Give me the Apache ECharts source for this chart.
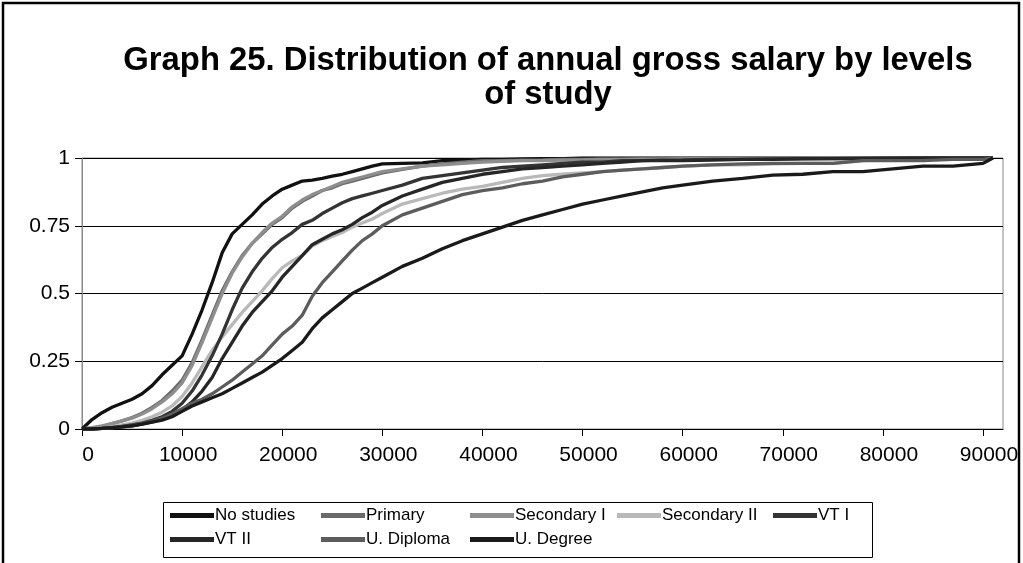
<!DOCTYPE html>
<html>
<head>
<meta charset="utf-8">
<script src="https://cdn.jsdelivr.net/npm/echarts@6/dist/echarts.min.js"></script>
<style>
html,body{margin:0;padding:0;background:#fff;}
#chart{width:1023px;height:563px;}
</style>
</head>
<body>
<div id="chart"></div>
<script>
// ---- data ----
const titleText = "Graph 25. Distribution of annual gross salary by levels\nof study";
const seriesNames = ["No studies","Primary","Secondary I","Secondary II","VT I","VT II","U. Diploma","U. Degree"];
const xTicks = [0,10000,20000,30000,40000,50000,60000,70000,80000,90000];
const yTicks = [0,0.25,0.5,0.75,1];
const salary = [0,1000,2000,3000,4000,5000,6000,7000,8000,9000,
  10000,11000,12000,13000,14000,15000,16000,17000,18000,19000,
  20000,21000,22000,23000,24000,25000,26000,27000,28000,29000,
  30000,32000,34000,36000,38000,40000,42000,44000,46000,48000,
  50000,52000,54000,56000,58000,60000,63000,66000,69000,72000,
  75000,78000,81000,84000,87000,90000,91000];
const noStudies = [0,0.035,0.06,0.08,0.095,0.11,0.13,0.16,0.2,0.235,
  0.27,0.35,0.44,0.54,0.65,0.72,0.755,0.79,0.83,0.86,
  0.885,0.9,0.915,0.918,0.925,0.933,0.94,0.95,0.96,0.97,
  0.978,0.98,0.982,0.99,0.992,0.995,0.995,0.997,0.998,0.998,
  1,1,1,1,1,1,1,1,1,1,
  1,1,1,1,1,1,1];
const primary = [0,0.003,0.01,0.02,0.03,0.042,0.058,0.08,0.105,0.14,
  0.18,0.245,0.33,0.42,0.51,0.58,0.64,0.685,0.72,0.755,
  0.78,0.815,0.84,0.86,0.88,0.89,0.905,0.915,0.925,0.935,
  0.945,0.958,0.97,0.978,0.985,0.99,0.99,0.992,0.993,0.995,
  0.995,0.996,0.996,0.997,0.997,0.998,0.998,0.998,0.999,0.999,
  0.999,1,1,1,1,1,1];
const secondaryI = [0,0.005,0.012,0.02,0.03,0.04,0.055,0.075,0.1,0.13,
  0.17,0.235,0.32,0.41,0.5,0.575,0.635,0.685,0.725,0.76,
  0.785,0.82,0.845,0.865,0.88,0.895,0.91,0.92,0.93,0.94,
  0.95,0.96,0.97,0.975,0.98,0.985,0.988,0.99,0.99,0.992,
  0.993,0.995,0.995,0.996,0.996,0.997,0.998,0.998,0.999,0.999,
  1,1,1,1,1,1,1];
const secondaryII = [0,0,0.003,0.008,0.015,0.022,0.032,0.045,0.062,0.085,
  0.12,0.17,0.23,0.29,0.34,0.385,0.43,0.47,0.51,0.555,
  0.595,0.62,0.64,0.675,0.695,0.71,0.725,0.745,0.76,0.775,
  0.795,0.83,0.85,0.87,0.885,0.895,0.91,0.925,0.935,0.94,
  0.945,0.95,0.955,0.96,0.965,0.97,0.975,0.975,0.978,0.98,
  0.98,0.99,0.995,0.995,0.995,0.995,1];
const vtI = [0,0,0.002,0.005,0.01,0.015,0.022,0.032,0.045,0.065,
  0.095,0.14,0.2,0.27,0.35,0.44,0.52,0.58,0.63,0.67,
  0.7,0.725,0.755,0.77,0.795,0.815,0.835,0.85,0.86,0.87,
  0.88,0.9,0.925,0.935,0.945,0.955,0.965,0.97,0.975,0.98,
  0.985,0.985,0.99,0.99,0.992,0.993,0.995,0.995,0.997,0.998,
  0.998,0.999,0.999,1,1,1,1];
const vtII = [0,0,0.002,0.004,0.008,0.012,0.018,0.026,0.036,0.05,
  0.07,0.1,0.14,0.19,0.26,0.32,0.38,0.43,0.47,0.51,
  0.56,0.6,0.64,0.68,0.7,0.72,0.735,0.755,0.78,0.8,
  0.825,0.86,0.885,0.91,0.925,0.94,0.95,0.96,0.965,0.97,
  0.975,0.98,0.985,0.99,0.99,0.99,0.992,0.995,0.995,0.997,
  0.998,0.998,0.999,1,1,1,1];
const uDiploma = [0,0,0.002,0.005,0.009,0.014,0.02,0.028,0.04,0.055,
  0.075,0.095,0.11,0.13,0.155,0.18,0.21,0.24,0.27,0.31,
  0.35,0.38,0.42,0.49,0.54,0.58,0.62,0.66,0.695,0.72,
  0.75,0.79,0.815,0.84,0.865,0.88,0.89,0.905,0.915,0.93,
  0.94,0.95,0.955,0.96,0.965,0.97,0.975,0.978,0.98,0.98,
  0.98,0.99,0.99,0.99,0.995,0.995,1];
const uDegree = [0,0,0.002,0.005,0.008,0.012,0.018,0.025,0.033,0.045,
  0.065,0.085,0.1,0.115,0.13,0.15,0.17,0.19,0.21,0.235,
  0.26,0.29,0.32,0.37,0.41,0.44,0.47,0.5,0.52,0.54,
  0.56,0.6,0.63,0.665,0.695,0.72,0.745,0.77,0.79,0.81,
  0.83,0.845,0.86,0.875,0.89,0.9,0.915,0.925,0.937,0.94,
  0.95,0.95,0.96,0.97,0.97,0.98,1];

// ---- styling ----
const seriesValues = [noStudies, primary, secondaryI, secondaryII, vtI, vtII, uDiploma, uDegree];
const colors = ["#111111","#6a6a6a","#8e8e8e","#b9b9b9","#343434","#262626","#5c5c5c","#1a1a1a"];
const FONT = "'Liberation Sans', Arial, sans-serif";

const legendPos = [
  [170,507],[321,507],[470,507],[617,507],[773,507],
  [170,531],[321,531],[470,531]
];

const chart = echarts.init(document.getElementById('chart'), null, {renderer:'canvas'});

const option = {
  animation: false,
  backgroundColor: '#fff',
  title: {
    text: titleText,
    left: 543,
    top: 39,
    textAlign: 'center',
    textStyle: {fontFamily: FONT, fontSize: 32.8, fontWeight: 'bold', color: '#000', lineHeight: 34}
  },
  grid: {
    left: 82, right: 20, top: 158, bottom: 134,
    show: true, borderColor: '#8a8a8a', borderWidth: 1, backgroundColor: '#fff'
  },
  xAxis: {
    type: 'value', min: 0, max: 92000, interval: 10000,
    axisLine: {show: true, onZero: false, lineStyle: {color: '#000', width: 1}},
    axisTick: {show: true, length: 7, customValues: xTicks, lineStyle: {color: '#000'}},
    axisLabel: {customValues: xTicks, fontFamily: FONT, fontSize: 21, color: '#000', margin: 16,
      padding: [0, 0, 0, 12], formatter: v => String(v)},
    splitLine: {show: false}
  },
  yAxis: {
    type: 'value', min: 0, max: 1, interval: 0.25,
    axisLine: {show: true, lineStyle: {color: '#8a8a8a', width: 1}},
    axisTick: {show: true, length: 7, lineStyle: {color: '#000'}},
    axisLabel: {fontFamily: FONT, fontSize: 21, color: '#000', margin: 12,
      formatter: v => String(yTicks.find(t => Math.abs(t - v) < 1e-9) ?? v)},
    splitLine: {show: true, lineStyle: {color: '#000', width: 1}}
  },
  legend: legendPos.map((p, i) => ({
    data: [seriesNames[i]],
    left: p[0], top: p[1],
    orient: 'horizontal',
    icon: 'rect', itemWidth: 44, itemHeight: 5,
    selectedMode: false,
    padding: 0,
    textStyle: {fontFamily: FONT, fontSize: 17, color: '#000', padding: [0,0,0,-4]}
  })),
  series: seriesNames.map((name, i) => ({
    name: name,
    type: 'line',
    showSymbol: false,
    symbol: 'none',
    data: salary.map((x, k) => [x, seriesValues[i][k]]),
    lineStyle: {color: colors[i], width: 3.3},
    itemStyle: {color: colors[i]},
    z: 2 + i
  })),
  graphic: [
    {type: 'rect', shape: {x: 3, y: 3, width: 1016, height: 620},
      style: {fill: 'none', stroke: '#000', lineWidth: 2.5}, silent: true},
    {type: 'rect', shape: {x: 163.5, y: 502.5, width: 709, height: 55},
      style: {fill: 'none', stroke: '#000', lineWidth: 1}, silent: true}
  ]
};
chart.setOption(option);
</script>
</body>
</html>
